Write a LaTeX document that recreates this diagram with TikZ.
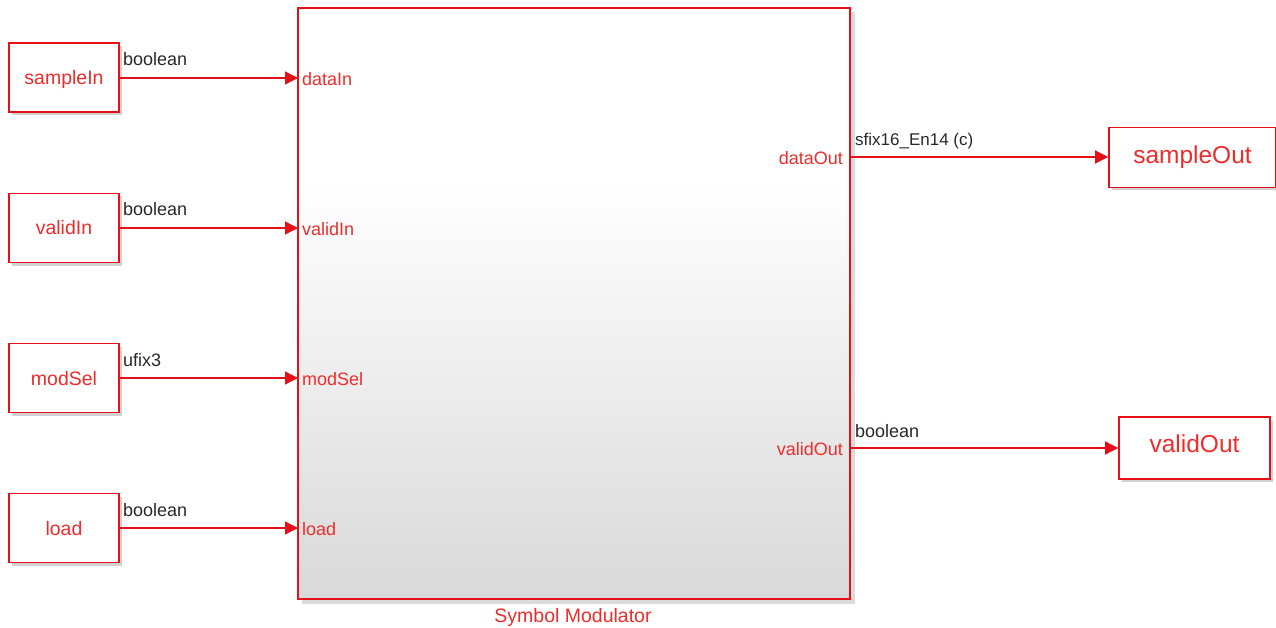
\documentclass[tikz,border=0pt]{standalone}
\usepackage{fontspec}
\setmainfont{Liberation Sans}
\usetikzlibrary{arrows.meta,shadows}
\definecolor{sigred}{RGB}{232,16,24}
\definecolor{txtred}{RGB}{238,44,44}
\definecolor{sigtxt}{RGB}{40,40,40}
\tikzset{
  x=1pt, y=-1pt,
  blk/.style={draw=sigred, line width=1.6pt, fill=white, minimum width=110pt, minimum height=69pt,
    text=txtred, font=\fontsize{19.5}{22}\selectfont, inner sep=0pt, text height=14pt, text depth=0pt,
    drop shadow={shadow xshift=3pt, shadow yshift=-3pt, opacity=0.3, fill=black!60}},
  outblk/.style={blk, font=\fontsize{24.5}{28}\selectfont, text height=12pt},
  sig/.style={draw=sigred, line width=1.3pt, -{Triangle[length=13pt,width=13pt]}},
  siglbl/.style={text=sigtxt, font=\fontsize{18}{21}\selectfont, inner sep=0pt, anchor=base west},
  portin/.style={text=txtred, font=\fontsize{18}{21}\selectfont, inner sep=0pt, anchor=west},
  portout/.style={text=txtred, font=\fontsize{18}{21}\selectfont, inner sep=0pt, anchor=east},
}
\begin{document}
\begin{tikzpicture}
\useasboundingbox (0,0) rectangle (1276,628);

% subsystem block with vertical gradient and shadow
\fill[black!40, opacity=0.35] (302,12) rectangle (855,604);
\fill[white] (298,8) rectangle (850,180);
\shade[top color=white, bottom color=black!15] (298,180) rectangle (850,599);
\node[draw=sigred, line width=1.8pt, minimum width=552pt, minimum height=591pt, inner sep=0pt] (mod) at (574,303.5) {};
\node[text=txtred, font=\fontsize{19.5}{22}\selectfont, inner sep=0pt, anchor=base] (modname) at (573,622) {Symbol Modulator};

% ports of the subsystem
\coordinate (pDataIn) at (298,78);
\coordinate (pValidIn) at (298,228);
\coordinate (pModSel) at (298,378);
\coordinate (pLoad) at (298,528);
\coordinate (pDataOut) at (850,157);
\coordinate (pValidOut) at (850,448);

\node[portin] (lDataIn) at (302,79.5) {dataIn};
\node[portin] (lValidIn) at (302,229.5) {validIn};
\node[portin] (lModSel) at (302,379.5) {modSel};
\node[portin] (lLoad) at (302,529.5) {load};
\node[portout] (lDataOut) at (843,158.5) {dataOut};
\node[portout] (lValidOut) at (843,449.5) {validOut};

% source blocks
\node[blk] (sampleIn) at (64,77.5) {sampleIn};
\node[blk] (validIn) at (64,228) {validIn};
\node[blk] (modSel) at (64,378) {modSel};
\node[blk] (load) at (64,528) {load};

% sink blocks
\node[outblk, minimum width=167pt, minimum height=60pt] (sampleOut) at (1192.5,157.5) {sampleOut};
\node[outblk, minimum width=151pt, minimum height=62pt, text height=9pt] (validOut) at (1194.5,448) {validOut};

% signal lines
\draw[sig] (sampleIn.east |- pDataIn) -- (pDataIn);
\draw[sig] (validIn.east |- pValidIn) -- (pValidIn);
\draw[sig] (modSel.east |- pModSel) -- (pModSel);
\draw[sig] (load.east |- pLoad) -- (pLoad);
\draw[sig] (pDataOut) -- (sampleOut.west |- pDataOut);
\draw[sig] (pValidOut) -- (validOut.west |- pValidOut);

% signal data types
\node[siglbl] (t1) at (123,66) {boolean};
\node[siglbl] (t2) at (123,216) {boolean};
\node[siglbl] (t3) at (123,366) {ufix3};
\node[siglbl] (t4) at (123,516) {boolean};
\node[siglbl, font=\fontsize{17}{20}\selectfont] (t5) at (855,146) {sfix16\_En14 (c)};
\node[siglbl] (t6) at (855,437) {boolean};
\end{tikzpicture}
\end{document}
